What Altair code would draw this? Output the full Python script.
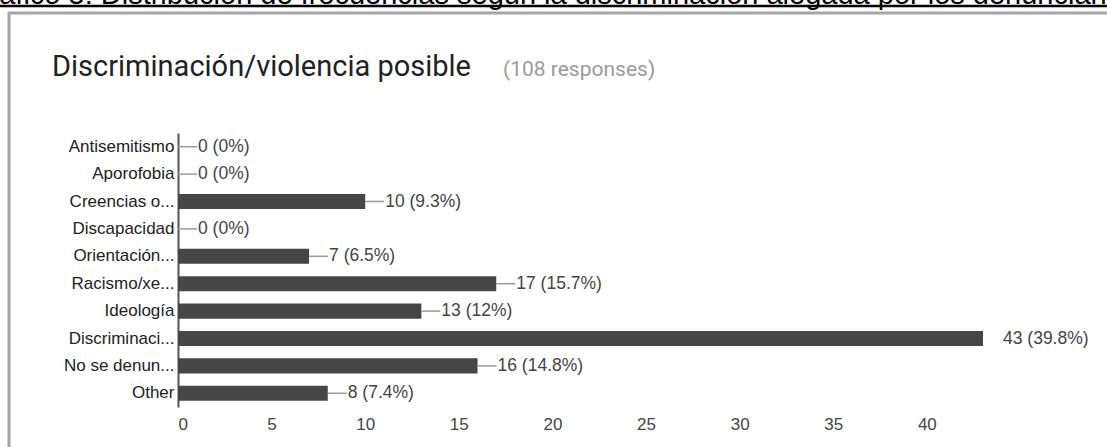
import altair as alt
import pandas as pd

categories = ["Antisemitismo", "Aporofobia", "Creencias o...", "Discapacidad",
              "Orientación...", "Racismo/xe...", "Ideología", "Discriminaci...",
              "No se denun...", "Other"]
counts = [0, 0, 10, 0, 7, 17, 13, 43, 16, 8]
percents = ["0%", "0%", "9.3%", "0%", "6.5%", "15.7%", "12%", "39.8%", "14.8%", "7.4%"]
x_ticks = [0, 5, 10, 15, 20, 25, 30, 35, 40]

caption = "Gráfico 5: Distribución de frecuencias según la discriminación alegada por los denunciantes"
title_text = "Discriminación/violencia posible"
subtitle_text = "(108 responses)"

df = pd.DataFrame({
    "cat": categories,
    "count": counts,
    "label": [f"{c} ({p})" for c, p in zip(counts, percents)],
})

W, H = 805, 274
LEFT, TOP = 178, 133
FONT = "Liberation Sans"

x_enc = alt.X("count:Q",
              scale=alt.Scale(domain=[0, 43], nice=False, zero=True),
              axis=alt.Axis(values=x_ticks, title=None, grid=False, domain=False,
                            ticks=False, labelPadding=9, labelFontSize=17,
                            labelColor="#444444", labelFont=FONT))
y_enc = alt.Y("cat:N", sort=categories,
              scale=alt.Scale(paddingInner=0.45),
              axis=alt.Axis(title=None, ticks=False, domainColor="#555555",
                            domainWidth=2, labelPadding=4, labelFontSize=17,
                            labelColor="#222222", labelFont=FONT))

base = alt.Chart(df)

bars = base.mark_bar(color="#464646").encode(x=x_enc, y=y_enc)

connectors = base.transform_joinaggregate(
    maxc="max(count)"
).transform_filter("datum.count < datum.maxc").mark_rule(
    color="#9a9a9a", strokeWidth=1.5, x2Offset=19
).encode(x="count:Q", x2="count:Q", y=alt.Y("cat:N", sort=categories))

labels = base.mark_text(align="left", baseline="middle", dx=20, fontSize=17.5,
                        color="#444444", font=FONT).encode(
    x="count:Q", y=alt.Y("cat:N", sort=categories), text="label:N")

one = alt.Data(values=[{"k": 1}])

cap = alt.Chart(one).mark_text(text=caption, align="left", baseline="alphabetic",
                               fontSize=29, font=FONT, color="#000000").encode(
    x=alt.value(-33 - LEFT), y=alt.value(4 - TOP))
cap_line = alt.Chart(one).mark_rule(color="#000000", strokeWidth=2.5).encode(
    x=alt.value(-LEFT), x2=alt.value(1107 - LEFT), y=alt.value(6 - TOP))
box_top = alt.Chart(one).mark_rule(color="#a6a6a6", strokeWidth=3).encode(
    x=alt.value(8 - LEFT), x2=alt.value(1107 - LEFT), y=alt.value(13 - TOP))
box_left = alt.Chart(one).mark_rule(color="#a6a6a6", strokeWidth=3).encode(
    x=alt.value(9 - LEFT), y=alt.value(12 - TOP), y2=alt.value(447 - TOP))
ttl = alt.Chart(one).mark_text(text=title_text, align="left", baseline="alphabetic",
                               fontSize=29, font="Roboto", color="#222222").encode(
    x=alt.value(52 - LEFT), y=alt.value(76 - TOP))
sub = alt.Chart(one).mark_text(text=subtitle_text, align="left", baseline="alphabetic",
                               fontSize=21, font="Roboto", color="#9a9a9a").encode(
    x=alt.value(503 - LEFT), y=alt.value(76 - TOP))

chart = alt.layer(bars, connectors, labels, cap, cap_line, box_top, box_left, ttl, sub).properties(
    width=W, height=H,
    padding={"left": LEFT, "top": TOP, "right": 1107 - LEFT - W, "bottom": 447 - TOP - H},
    autosize=alt.AutoSizeParams(type="none"),
    background="white",
).configure_view(stroke=None)

chart.save("out.html", embed_options={"renderer": "svg", "actions": False})
